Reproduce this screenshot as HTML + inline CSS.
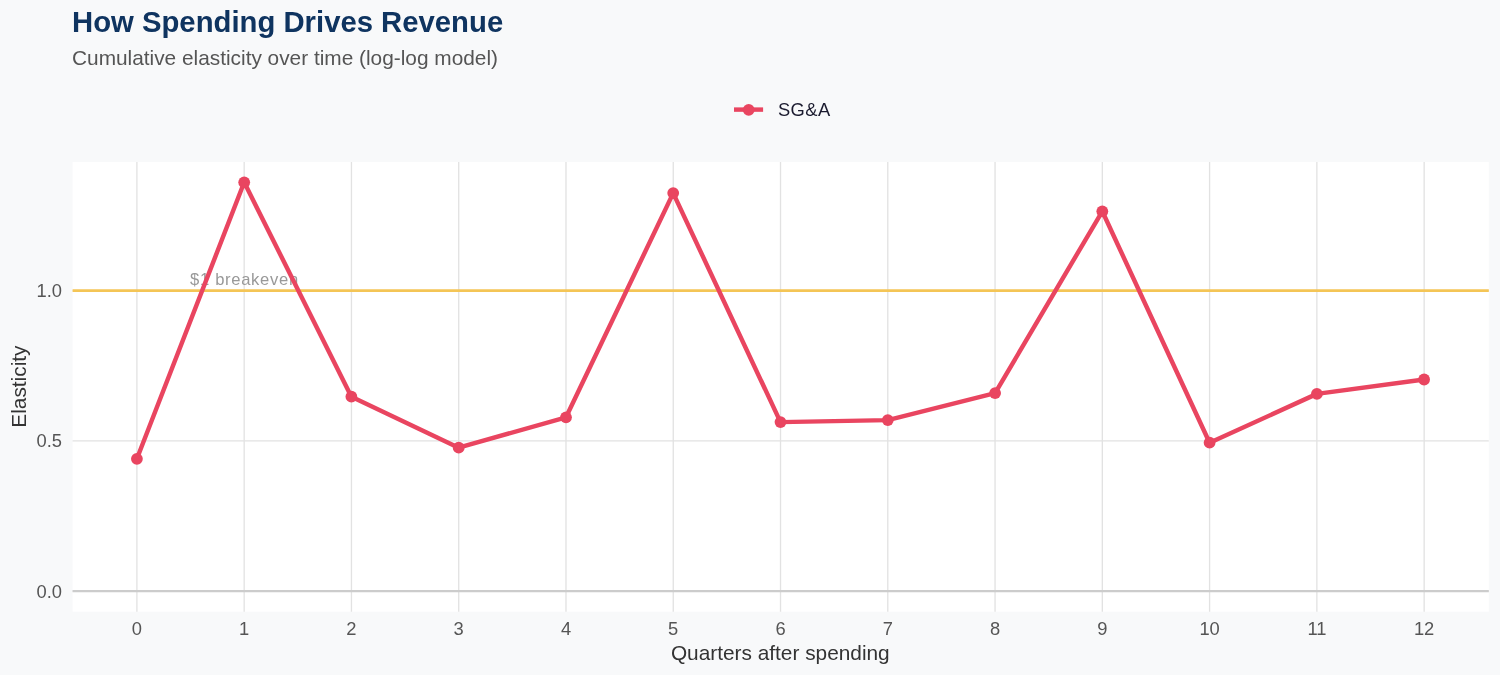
<!DOCTYPE html>
<html lang="en">
<head>
<meta charset="utf-8">
<title>How Spending Drives Revenue</title>
<style>
html,body{margin:0;padding:0;background:#f8f9fa;}
body{width:1500px;height:675px;overflow:hidden;}
svg{display:block;}
text{font-family:"Liberation Sans",Arial,Helvetica,sans-serif;}
.title{font-size:29.3px;font-weight:bold;fill:#0f3460;}
.sub{font-size:20.83px;fill:#555555;}
.tick{font-size:18.33px;fill:#555555;}
.axt{font-size:20.83px;fill:#333333;}
.leg{font-size:18.33px;fill:#1a1a2e;letter-spacing:0.4px;}
.ann{font-size:16.6px;fill:#999999;letter-spacing:0.69px;}
</style>
</head>
<body>
<svg width="1500" height="675" viewBox="0 0 1500 675">
<rect x="0" y="0" width="1500" height="675" fill="#f8f9fa"/>
<rect x="72.6" y="161.9" width="1416.2" height="449.8" fill="#ffffff"/>
<g stroke="#e2e2e2" stroke-width="1.33" fill="none">
<line x1="72.6" x2="1488.8" y1="440.88" y2="440.88"/>
<line x1="72.6" x2="1488.8" y1="290.55" y2="290.55"/>
<line x1="72.6" x2="1488.8" y1="591.20" y2="591.20"/>
<line x1="136.90" x2="136.90" y1="161.9" y2="611.7"/>
<line x1="244.17" x2="244.17" y1="161.9" y2="611.7"/>
<line x1="351.44" x2="351.44" y1="161.9" y2="611.7"/>
<line x1="458.71" x2="458.71" y1="161.9" y2="611.7"/>
<line x1="565.98" x2="565.98" y1="161.9" y2="611.7"/>
<line x1="673.25" x2="673.25" y1="161.9" y2="611.7"/>
<line x1="780.52" x2="780.52" y1="161.9" y2="611.7"/>
<line x1="887.79" x2="887.79" y1="161.9" y2="611.7"/>
<line x1="995.06" x2="995.06" y1="161.9" y2="611.7"/>
<line x1="1102.33" x2="1102.33" y1="161.9" y2="611.7"/>
<line x1="1209.60" x2="1209.60" y1="161.9" y2="611.7"/>
<line x1="1316.87" x2="1316.87" y1="161.9" y2="611.7"/>
<line x1="1424.14" x2="1424.14" y1="161.9" y2="611.7"/>
</g>
<line x1="72.6" x2="1488.8" y1="591.20" y2="591.20" stroke="#cccccc" stroke-width="2.2"/>
<line x1="72.6" x2="1488.8" y1="290.55" y2="290.55" stroke="#f4c556" stroke-width="2.67"/>
<text class="ann" x="190" y="285">$1 breakeven</text>
<polyline fill="none" stroke="#e94560" stroke-width="4.45" stroke-linejoin="round" stroke-linecap="butt" points="136.9,458.8 244.2,182.3 351.4,396.7 458.7,447.7 566.0,417.3 673.2,193.1 780.5,422.1 887.8,420.1 995.1,393.1 1102.3,211.3 1209.6,442.7 1316.9,393.9 1424.1,379.5"/>
<g fill="#e94560">
<circle cx="136.9" cy="458.8" r="5.9"/>
<circle cx="244.2" cy="182.3" r="5.9"/>
<circle cx="351.4" cy="396.7" r="5.9"/>
<circle cx="458.7" cy="447.7" r="5.9"/>
<circle cx="566.0" cy="417.3" r="5.9"/>
<circle cx="673.2" cy="193.1" r="5.9"/>
<circle cx="780.5" cy="422.1" r="5.9"/>
<circle cx="887.8" cy="420.1" r="5.9"/>
<circle cx="995.1" cy="393.1" r="5.9"/>
<circle cx="1102.3" cy="211.3" r="5.9"/>
<circle cx="1209.6" cy="442.7" r="5.9"/>
<circle cx="1316.9" cy="393.9" r="5.9"/>
<circle cx="1424.1" cy="379.5" r="5.9"/>
</g>
<line x1="734" x2="763.1" y1="109.6" y2="109.6" stroke="#e94560" stroke-width="4.45"/>
<circle cx="748.7" cy="109.8" r="5.9" fill="#e94560"/>
<text class="leg" x="778" y="116">SG&amp;A</text>
<text class="title" transform="translate(72,32) scale(1,1.035)">How Spending Drives Revenue</text>
<text class="sub" x="72" y="65.2">Cumulative elasticity over time (log-log model)</text>
<text class="tick" text-anchor="end" x="62" y="597.7">0.0</text>
<text class="tick" text-anchor="end" x="62" y="447.4">0.5</text>
<text class="tick" text-anchor="end" x="62" y="297.1">1.0</text>
<text class="tick" text-anchor="middle" x="136.9" y="635">0</text>
<text class="tick" text-anchor="middle" x="244.2" y="635">1</text>
<text class="tick" text-anchor="middle" x="351.4" y="635">2</text>
<text class="tick" text-anchor="middle" x="458.7" y="635">3</text>
<text class="tick" text-anchor="middle" x="566.0" y="635">4</text>
<text class="tick" text-anchor="middle" x="673.2" y="635">5</text>
<text class="tick" text-anchor="middle" x="780.5" y="635">6</text>
<text class="tick" text-anchor="middle" x="887.8" y="635">7</text>
<text class="tick" text-anchor="middle" x="995.1" y="635">8</text>
<text class="tick" text-anchor="middle" x="1102.3" y="635">9</text>
<text class="tick" text-anchor="middle" x="1209.6" y="635">10</text>
<text class="tick" text-anchor="middle" x="1316.9" y="635">11</text>
<text class="tick" text-anchor="middle" x="1424.1" y="635">12</text>
<text class="axt" text-anchor="middle" x="780.3" y="659.6">Quarters after spending</text>
<text class="axt" text-anchor="middle" transform="translate(26,386.6) rotate(-90)">Elasticity</text>
</svg>
</body>
</html>
